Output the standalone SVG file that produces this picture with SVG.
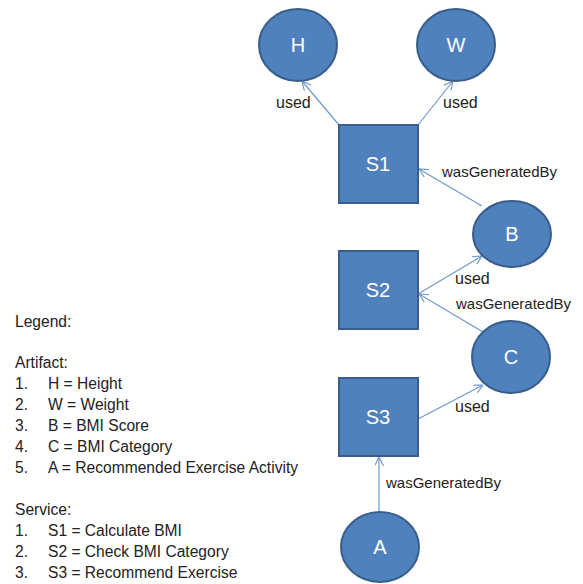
<svg xmlns="http://www.w3.org/2000/svg" width="583" height="584" viewBox="0 0 583 584">
  <defs>
    <marker id="arr" viewBox="0 0 10 10" refX="10" refY="5" markerWidth="9" markerHeight="9" markerUnits="userSpaceOnUse" orient="auto">
      <path d="M0,0 L10,5 L0,10" fill="none" stroke="#6f98cc" stroke-width="1.3"/>
    </marker>
  </defs>
  <style>
    .node { fill: #4f81bd; stroke: #385d8a; stroke-width: 2; }
    .nlabel { font-family: "Liberation Sans", Arial, sans-serif; font-size: 20px; fill: #ffffff; text-anchor: middle; }
    .edge { stroke: #6f98cc; stroke-width: 1.2; fill: none; marker-end: url(#arr); }
    .elabel { font-family: "Liberation Sans", Arial, sans-serif; font-size: 15px; fill: #222222; }
    .used { font-size: 16px; }
    .legend { font-family: "Liberation Sans", Arial, sans-serif; font-size: 15.6px; fill: #222222; }
  </style>
  <rect width="583" height="584" fill="#ffffff"/>

  <g id="connectors">
    <line class="edge" x1="339" y1="125" x2="302" y2="81"/>
    <line class="edge" x1="418" y1="125" x2="453" y2="81"/>
    <line class="edge" x1="482" y1="206" x2="419" y2="169"/>
    <line class="edge" x1="418" y1="294" x2="482" y2="256"/>
    <line class="edge" x1="483" y1="332" x2="419" y2="294"/>
    <line class="edge" x1="418" y1="419" x2="483" y2="385"/>
    <line class="edge" x1="379" y1="512" x2="379" y2="457"/>
    <text class="elabel used" x="276" y="108">used</text>
    <text class="elabel used" x="443" y="108">used</text>
    <text class="elabel" x="442" y="177">wasGeneratedBy</text>
    <text class="elabel used" x="455" y="284">used</text>
    <text class="elabel" x="456" y="309">wasGeneratedBy</text>
    <text class="elabel used" x="455" y="412">used</text>
    <text class="elabel" x="386" y="488">wasGeneratedBy</text>
  </g>

  <g id="H">
    <ellipse class="node" cx="298" cy="45" rx="39" ry="36"/>
    <text class="nlabel" x="298" y="52">H</text>
  </g>
  <g id="W">
    <ellipse class="node" cx="456" cy="45" rx="39" ry="36"/>
    <text class="nlabel" x="456" y="52">W</text>
  </g>
  <g id="S1">
    <rect class="node" x="339" y="125" width="79" height="78"/>
    <text class="nlabel" x="378" y="171">S1</text>
  </g>
  <g id="B">
    <ellipse class="node" cx="512" cy="234" rx="39" ry="33"/>
    <text class="nlabel" x="512" y="241">B</text>
  </g>
  <g id="S2">
    <rect class="node" x="339" y="251" width="79" height="78"/>
    <text class="nlabel" x="378" y="297">S2</text>
  </g>
  <g id="C">
    <ellipse class="node" cx="511" cy="357" rx="39" ry="36"/>
    <text class="nlabel" x="511" y="364">C</text>
  </g>
  <g id="S3">
    <rect class="node" x="339" y="378" width="79" height="78"/>
    <text class="nlabel" x="378" y="424">S3</text>
  </g>
  <g id="A">
    <ellipse class="node" cx="380" cy="547" rx="39" ry="35"/>
    <text class="nlabel" x="380" y="554">A</text>
  </g>

  <g id="legend" class="legend">
    <text x="15" y="327">Legend:</text>
    <text x="15" y="368">Artifact:</text>
    <text x="15" y="389">1.</text><text x="48" y="389">H = Height</text>
    <text x="15" y="410">2.</text><text x="48" y="410">W = Weight</text>
    <text x="15" y="431">3.</text><text x="48" y="431">B = BMI Score</text>
    <text x="15" y="452">4.</text><text x="48" y="452">C = BMI Category</text>
    <text x="15" y="473">5.</text><text x="48" y="473">A = Recommended Exercise Activity</text>
    <text x="15" y="515">Service:</text>
    <text x="15" y="536">1.</text><text x="48" y="536">S1 = Calculate BMI</text>
    <text x="15" y="557">2.</text><text x="48" y="557">S2 = Check BMI Category</text>
    <text x="15" y="578">3.</text><text x="48" y="578">S3 = Recommend Exercise</text>
  </g>
</svg>
